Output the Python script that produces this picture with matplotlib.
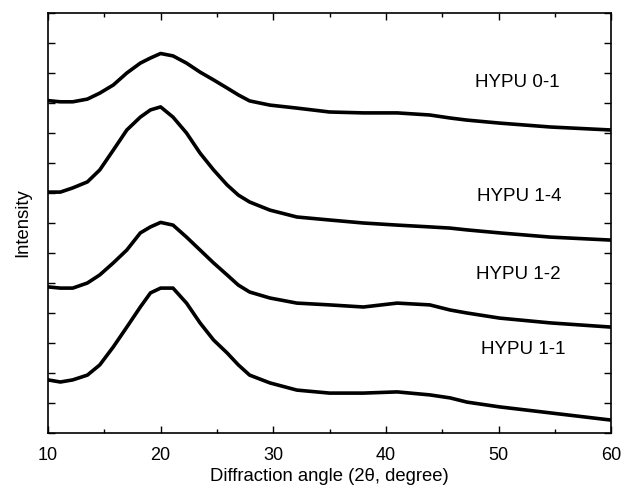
import matplotlib
matplotlib.use("Agg")
import matplotlib.pyplot as plt
from matplotlib.ticker import MultipleLocator

plt.rcParams["font.family"] = ["Liberation Sans", "DejaVu Sans"]

# diffraction angle (2 theta, degree)
angle = [10, 11.1, 12.2, 13.5, 14.6, 15.8, 17, 18.2, 19.1, 20, 21.1, 22.3, 23.5,
         24.7, 25.9, 26.9, 27.9, 29.7, 32.1, 35, 38, 41, 43.9, 45.7, 47.2,
         50.1, 54.6, 60]

# intensity (stacked, arbitrary units)
hypu_0_1 = [11.08, 11.04, 11.04, 11.13, 11.33, 11.60, 12.00, 12.33, 12.50, 12.65,
            12.57, 12.33, 12.03, 11.77, 11.50, 11.27, 11.07, 10.93, 10.83, 10.70,
            10.67, 10.67, 10.60, 10.50, 10.43, 10.33, 10.20, 10.10]
hypu_1_4 = [8.03, 8.03, 8.17, 8.37, 8.77, 9.43, 10.10, 10.53, 10.77, 10.87,
            10.53, 10.00, 9.33, 8.77, 8.27, 7.93, 7.70, 7.43, 7.20, 7.10,
            7.00, 6.93, 6.87, 6.83, 6.77, 6.67, 6.53, 6.43]
hypu_1_2 = [4.87, 4.83, 4.83, 5.00, 5.27, 5.67, 6.10, 6.67, 6.87, 7.02,
            6.93, 6.53, 6.10, 5.67, 5.27, 4.93, 4.70, 4.50, 4.33, 4.27,
            4.20, 4.33, 4.27, 4.10, 4.00, 3.83, 3.67, 3.53]
hypu_1_1 = [1.77, 1.70, 1.77, 1.93, 2.27, 2.87, 3.53, 4.20, 4.67, 4.83,
            4.83, 4.33, 3.67, 3.10, 2.67, 2.27, 1.93, 1.67, 1.43, 1.33,
            1.33, 1.37, 1.27, 1.17, 1.03, 0.87, 0.67, 0.43]

labels = ["HYPU 0-1", "HYPU 1-4", "HYPU 1-2", "HYPU 1-1"]
label_x = [47.9, 48.1, 48.0, 48.4]
label_y = [11.67, 7.87, 5.27, 2.77]

fig = plt.figure(figsize=(6.23, 5.0), dpi=100)
ax = fig.add_axes([0.077, 0.134, 0.904, 0.84])

for y in [hypu_0_1, hypu_1_4, hypu_1_2, hypu_1_1]:
    ax.plot(angle, y, color="black", lw=2.6, solid_joinstyle="round")

for txt, x, y in zip(labels, label_x, label_y):
    ax.text(x, y, txt, fontsize=13.5, va="center", ha="left")

ax.set_xlim(10, 60)
ax.set_ylim(0, 14)
ax.xaxis.set_major_locator(MultipleLocator(10))
ax.xaxis.set_minor_locator(MultipleLocator(5))
ax.yaxis.set_major_locator(MultipleLocator(1))
ax.tick_params(which="both", direction="in", top=True, right=True, width=1)
ax.tick_params(which="major", length=5, labelsize=13, pad=10)
ax.tick_params(which="minor", length=3)
ax.tick_params(axis="y", labelleft=False)
for s in ax.spines.values():
    s.set_linewidth(1.2)

ax.set_xlabel("Diffraction angle (2θ, degree)", fontsize=13.3, labelpad=3)
ax.set_ylabel("Intensity", fontsize=13.3, labelpad=12)

fig.savefig("out.png", dpi=100)
